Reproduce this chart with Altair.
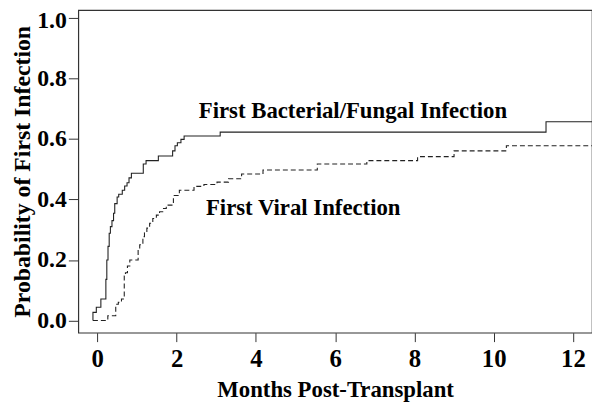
import altair as alt
import pandas as pd

# Cumulative probability of first bacterial/fungal infection (solid)
bf_months = [-0.11, -0.11, -0.025, 0.09, 0.216, 0.24, 0.27, 0.30, 0.33, 0.37, 0.41, 0.44,
             0.50, 0.54, 0.63, 0.69, 0.75, 0.80, 0.86, 1.16, 1.23, 1.54, 1.90, 1.96,
             2.02, 2.11, 2.19, 3.10, 11.32, 12.6]
bf_prob = [0.0, 0.027, 0.044, 0.071, 0.136, 0.2, 0.245, 0.288, 0.31, 0.33, 0.354, 0.386,
           0.408, 0.417, 0.43, 0.444, 0.455, 0.471, 0.486, 0.517, 0.528, 0.543, 0.56, 0.577,
           0.587, 0.598, 0.609, 0.622, 0.656, 0.656]

# Cumulative probability of first viral infection (dashed)
vi_months = [-0.11, 0.265, 0.465, 0.53, 0.61, 0.68, 0.71, 0.76, 0.82, 1.03, 1.07, 1.15,
             1.19, 1.25, 1.32, 1.40, 1.49, 1.57, 1.65, 1.74, 1.92, 2.07, 2.44, 2.69,
             3.02, 3.31, 3.64, 4.18, 5.55, 6.80, 8.08, 9.0, 10.32, 12.6]
vi_prob = [0.0, 0.016, 0.054, 0.06, 0.071, 0.147, 0.158, 0.18, 0.2, 0.234, 0.25, 0.277,
           0.29, 0.305, 0.321, 0.337, 0.348, 0.359, 0.37, 0.381, 0.413, 0.43, 0.443, 0.449,
           0.457, 0.468, 0.484, 0.497, 0.517, 0.528, 0.541, 0.56, 0.577, 0.577]

x_ticks = [0, 2, 4, 6, 8, 10, 12]
y_ticks = [0.0, 0.2, 0.4, 0.6, 0.8, 1.0]

label_text = ["First Bacterial/Fungal Infection", "First Viral Infection"]
label_month = [2.56, 2.74]
label_prob = [0.669, 0.348]

bf = pd.DataFrame({"month": bf_months, "prob": bf_prob, "order": range(len(bf_months))})
vi = pd.DataFrame({"month": vi_months, "prob": vi_prob, "order": range(len(vi_months))})
labels = pd.DataFrame({"text": label_text, "month": label_month, "prob": label_prob})

FONT = "Liberation Serif"

xscale = alt.Scale(domain=[-0.48, 12.48], nice=False, zero=False)
yscale = alt.Scale(domain=[-0.04, 1.025], nice=False, zero=False)

xaxis = alt.Axis(values=x_ticks, title="Months Post-Transplant", grid=False,
                 labelFont=FONT, labelFontSize=25, labelFontWeight="bold", labelColor="black",
                 titleFont=FONT, titleFontSize=23, titleFontWeight="bold", titleColor="black",
                 tickSize=9, tickColor="#333", domain=False, labelPadding=5, titlePadding=7,
                 labelFlush=False)
yaxis = alt.Axis(values=y_ticks, format=".1f", title="Probability of First Infection", grid=False,
                 labelFont=FONT, labelFontSize=24, labelFontWeight="bold", labelColor="black",
                 titleFont=FONT, titleFontSize=24, titleFontWeight="bold", titleColor="black",
                 tickSize=10, tickColor="#333", domain=False, labelPadding=2, titlePadding=2,
                 labelFlush=False,
                 labelOffset={"condition": {"test": "datum.value >= 1", "value": 3}, "value": 0})

solid = alt.Chart(bf).mark_line(interpolate="step-after", color="#222", strokeWidth=1.1, clip=True).encode(
    x=alt.X("month:Q", scale=xscale, axis=xaxis),
    y=alt.Y("prob:Q", scale=yscale, axis=yaxis),
    order="order:Q",
)
dashed = alt.Chart(vi).mark_line(interpolate="step-after", color="#222", strokeWidth=1.1,
                                 strokeDash=[5, 3], clip=True).encode(
    x=alt.X("month:Q", scale=xscale),
    y=alt.Y("prob:Q", scale=yscale),
    order="order:Q",
)
text = alt.Chart(labels).mark_text(align="left", baseline="alphabetic", font=FONT,
                                   fontSize=23, fontWeight="bold", color="black").encode(
    x=alt.X("month:Q", scale=xscale),
    y=alt.Y("prob:Q", scale=yscale),
    text="text:N",
)

chart = (solid + dashed + text).properties(
    width=519, height=326,
    autosize=alt.AutoSizeParams(type="none"),
    padding={"left": 71, "top": 0, "right": 0, "bottom": 69},
).configure_view(stroke="#333", strokeWidth=1.2)

chart.save("out.html", embed_options={"renderer": "svg", "actions": False})
